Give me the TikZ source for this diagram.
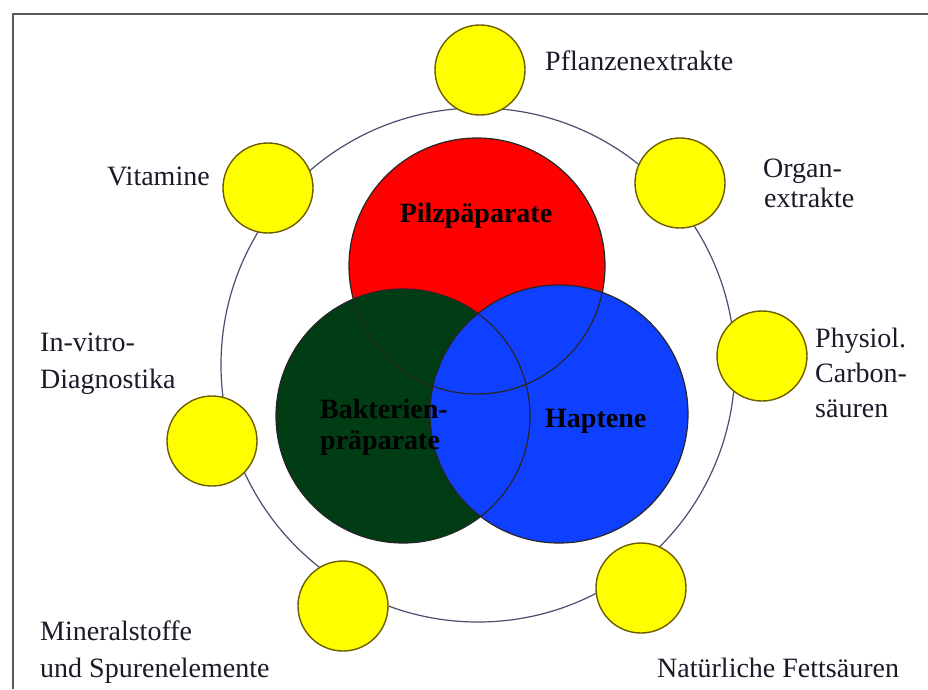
\documentclass[tikz,border=0pt]{standalone}
\usepackage{fontspec}
\setmainfont{Liberation Serif}
\definecolor{vred}{HTML}{FF0000}
\definecolor{vgreen}{HTML}{003C14}
\definecolor{vblue}{HTML}{1040FF}
\definecolor{dotyellow}{HTML}{FFFF00}
\definecolor{dotedge}{HTML}{6E5E00}
\definecolor{ringcol}{HTML}{4A4E70}
\definecolor{framecol}{HTML}{5A5A5A}
\definecolor{txtcol}{HTML}{1A1A28}
\begin{document}
\begin{tikzpicture}[x=1pt,y=-1pt,
  dot/.style={circle,draw=dotedge,line width=1.4pt,fill=dotyellow,minimum size=90pt,inner sep=0pt,outer sep=0pt},
  vennfill/.style={circle,minimum size=#1,inner sep=0pt,outer sep=0pt},
  vennline/.style={draw=black!85,line width=1.2pt},
  lbl/.style={anchor=base west,inner sep=0pt,text=txtcol,font=\fontsize{28}{34}\selectfont},
  blbl/.style={anchor=base west,inner sep=0pt,text=black,font=\fontsize{28}{34}\selectfont\bfseries},
  ringline/.style={draw=ringcol,line width=1.2pt}]
\useasboundingbox (0,0) rectangle (928,689);
\fill[white] (0,0) rectangle (928,689);
% frame
\coordinate (fbl) at (13,689);
\coordinate (ftl) at (13,14);
\coordinate (ftr) at (928,14);
\draw[framecol,line width=2pt] (fbl) -- (ftl) -- (ftr);
% outer ring
\coordinate (ringc) at (478,365);
\draw[ringline] (ringc) circle[radius=257pt];
% Venn circles
\node[vennfill=256pt,fill=vred] (pilz) at (477,266) {};
\node[vennfill=254pt,fill=vgreen] (bakt) at (403,416) {};
\node[vennfill=258pt,fill=vblue] (hapt) at (559,414) {};
\draw[vennline] (pilz) circle[radius=128pt];
\draw[vennline] (bakt) circle[radius=127pt];
\draw[vennline] (hapt) circle[radius=129pt];
\node[blbl,anchor=base] (tpilz) at (476,222) {Pilzpäparate};
\node[blbl] (tbakt1) at (320,418) {Bakterien-};
\node[blbl] (tbakt2) at (320,449) {präparate};
\node[blbl] (thapt) at (545,427) {Haptene};
% yellow dots
\node[dot] (d1) at (480,70) {};
\node[dot] (d2) at (680,183) {};
\node[dot] (d3) at (762,356) {};
\node[dot] (d4) at (641,588) {};
\node[dot] (d5) at (343,606) {};
\node[dot] (d6) at (212,441) {};
\node[dot] (d7) at (268,188) {};
% labels
\node[lbl] (l1) at (545,70) {Pflanzenextrakte};
\node[lbl] (l2a) at (763,177) {Organ-};
\node[lbl] (l2b) at (764,207) {extrakte};
\node[lbl] (l3a) at (815,347) {Physiol.};
\node[lbl] (l3b) at (815,382) {Carbon-};
\node[lbl] (l3c) at (815,417) {säuren};
\node[lbl] (l4) at (657,677) {Natürliche Fettsäuren};
\node[lbl] (l5a) at (40,640) {Mineralstoffe};
\node[lbl] (l5b) at (40,677) {und Spurenelemente};
\node[lbl] (l6a) at (40,351) {In-vitro-};
\node[lbl] (l6b) at (40,388) {Diagnostika};
\node[lbl] (l7) at (107,185) {Vitamine};
\end{tikzpicture}
\end{document}
